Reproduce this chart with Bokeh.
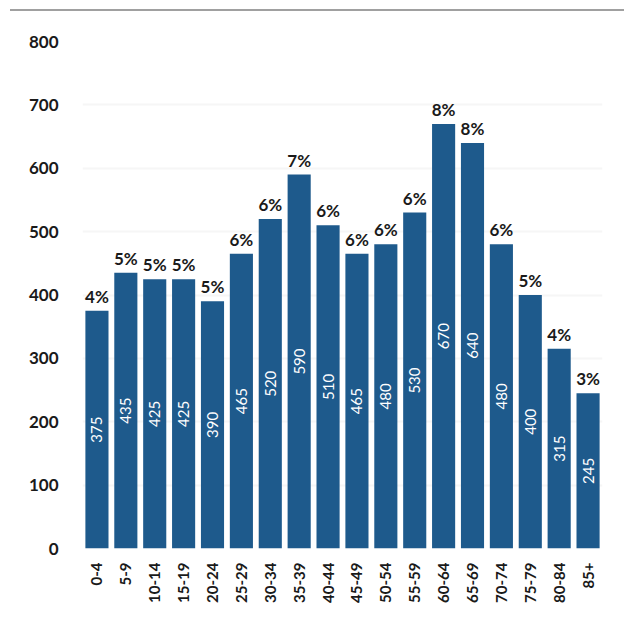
import math
from bokeh.plotting import figure
from bokeh.models import ColumnDataSource, Div
from bokeh.layouts import column
from bokeh.core.properties import value
from bokeh.embed import file_html
from bokeh.resources import INLINE

age_groups = ["0-4", "5-9", "10-14", "15-19", "20-24", "25-29", "30-34", "35-39", "40-44",
              "45-49", "50-54", "55-59", "60-64", "65-69", "70-74", "75-79", "80-84", "85+"]
counts = [375, 435, 425, 425, 390, 465, 520, 590, 510, 465, 480, 530, 670, 640, 480, 400, 315, 245]
shares = ["4%", "5%", "5%", "5%", "5%", "6%", "6%", "7%", "6%", "6%", "6%", "6%", "8%", "8%",
          "6%", "5%", "4%", "3%"]
y_ticks = [0, 100, 200, 300, 400, 500, 600, 700, 800]

FONT = "Lato"
BAR = "#1e5a8c"

src = ColumnDataSource(dict(
    x=age_groups,
    y=counts,
    half=[c / 2 for c in counts],
    lab=[str(c) for c in counts],
    pct=shares,
))

p = figure(x_range=age_groups, y_range=(0, 800), width=624, height=616,
           output_backend="svg", toolbar_location=None,
           min_border_left=82, min_border_right=22, min_border_top=30, min_border_bottom=79)
p.x_range.range_padding = 0
p.outline_line_color = None
p.background_fill_color = "white"
p.border_fill_color = "white"

p.vbar(x="x", top="y", width=0.8, source=src, fill_color=BAR, line_color=None)

p.text(x="x", y="half", text="lab", source=src, angle=math.pi / 2,
       text_align="center", text_baseline="middle", text_color="white",
       text_font=value(FONT), text_font_size="15px")
p.text(x="x", y="y", text="pct", source=src, y_offset=-4,
       text_align="center", text_baseline="bottom", text_color="#1a1a1a",
       text_font=value(FONT), text_font_size="17px", text_font_style="bold")

p.yaxis.ticker = y_ticks
p.xgrid.grid_line_color = None
p.ygrid.grid_line_color = "#f6f6f6"
p.ygrid.grid_line_width = 2

for ax in (p.xaxis, p.yaxis):
    ax.axis_line_color = None
    ax.major_tick_line_color = None
    ax.minor_tick_line_color = None
    ax.major_label_text_font = FONT
    ax.major_label_text_font_style = "bold"
    ax.major_label_text_color = "#1a1a1a"

p.yaxis.major_label_text_font_size = "17px"
p.yaxis.major_label_standoff = 18
p.xaxis.major_label_text_font_size = "15px"
p.xaxis.major_label_orientation = math.pi / 2
p.xaxis.major_label_standoff = 8

top_line = Div(text="", width=614, height=11, margin=(0, 0, 0, 10),
               styles={"border-bottom": "2px solid #a0a0a0", "box-sizing": "border-box"})

layout = column(top_line, p, spacing=0)

open("out.html", "w").write(file_html(layout, INLINE))
